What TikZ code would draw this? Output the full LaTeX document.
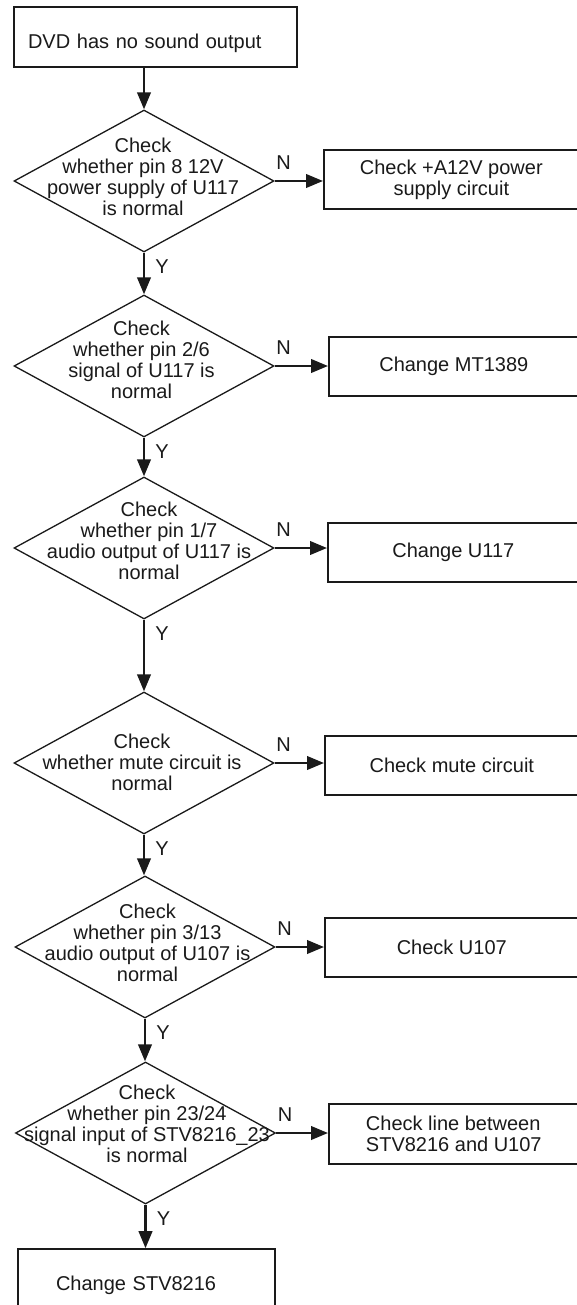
\documentclass[tikz,border=0pt]{standalone}
\usepackage{fontspec}
\setmainfont{Liberation Sans}
\usetikzlibrary{positioning,arrows.meta,shapes.geometric}
\definecolor{ink}{RGB}{26,26,26}

\begin{document}
\begin{tikzpicture}[x=1pt, y=-1pt, >={Triangle[length=17pt,width=13.5pt]},
    every node/.style={font=\fontsize{20}{21}\selectfont, text=ink},
    box/.style={draw=ink, line width=1.6pt, inner sep=0pt, align=center, minimum height=59pt},
    dec/.style={draw=ink, line width=1.3pt, diamond, inner sep=0pt,
                minimum width=260pt, minimum height=142pt},
    dtext/.style={align=center, inner sep=0pt},
    flow/.style={->, draw=ink, line width=2.4pt},
    yn/.style={inner sep=0pt}]
    \useasboundingbox[fill=white] (0,0) rectangle (576,1305);
    % start and end boxes
    \node[box, line width=2pt, minimum width=283pt, minimum height=60pt, text width=255pt,
          align=left, text height=23pt, text depth=0pt] (start) at (155.5,37) {DVD has no sound output};
    \node[box, minimum width=257pt, minimum height=60pt, text width=181pt,
          align=left, text height=23pt, text depth=0pt] (stop) at (146.5,1279) {Change STV8216};
    % decisions
    \node[dec] (d1) at (144,181) {};
    \node[dec] (d2) at (144,366) {};
    \node[dec] (d3) at (144,548) {};
    \node[dec] (d4) at (144,763) {};
    \node[dec] (d5) at (145,947) {};
    \node[dec] (d6) at (145.5,1133) {};
    \node[dtext] (t1) at (143,177) {Check\\whether pin 8 12V\\power supply of U117\\is normal};
    \node[dtext] (t2) at (141.5,360) {Check\\whether pin 2/6\\signal of U117 is\\normal};
    \node[dtext] (t3) at (149,541) {Check\\whether pin 1/7\\audio output of U117 is\\normal};
    \node[dtext] (t4) at (142,762) {Check\\whether mute circuit is\\normal};
    \node[dtext] (t5) at (147.5,943) {Check\\whether pin 3/13\\audio output of U107 is\\normal};
    \node[dtext] (t6) at (147,1124) {Check\\whether pin 23/24\\signal input of STV8216\_23\\is normal};
    % actions on the N side
    \node[box, anchor=west, minimum width=255pt] (b1) at (323,179.5) {Check +A12V power\\supply circuit};
    \node[box, anchor=west, minimum width=250pt] (b2) at (328,366.5) {Change MT1389};
    \node[box, anchor=west, minimum width=251pt] (b3) at (327,552.5) {Change U117};
    \node[box, anchor=west, minimum width=254pt] (b4) at (324,765.5) {Check mute circuit};
    \node[box, anchor=west, minimum width=254pt] (b5) at (324,947.5) {Check U107};
    \node[box, anchor=west, minimum width=250pt, minimum height=60pt, align=left] (b6) at (328,1134)
        {Check line between\\STV8216 and U107};
    % connectors
    \draw[flow] (d1.north |- start.south) -- (d1.north);
    \foreach \a/\b in {d1/d2,d2/d3,d3/d4,d4/d5,d5/d6}
        \draw[flow] (\a.south) -- node[yn, at start, xshift=18pt, yshift=-14pt] (y\a) {Y} (\a.south |- \b.north);
    \draw[flow] (d6.south) -- node[yn, at start, xshift=18pt, yshift=-14pt] (yd6) {Y} (d6.south |- stop.north);
    \foreach \a/\b in {d1/b1,d2/b2,d3/b3,d4/b4,d5/b5,d6/b6}
        \draw[flow] (\a.east) -- node[yn, at start, xshift=9pt, yshift=18pt] (n\a) {N} (\a.east -| \b.west);
\end{tikzpicture}
\end{document}
